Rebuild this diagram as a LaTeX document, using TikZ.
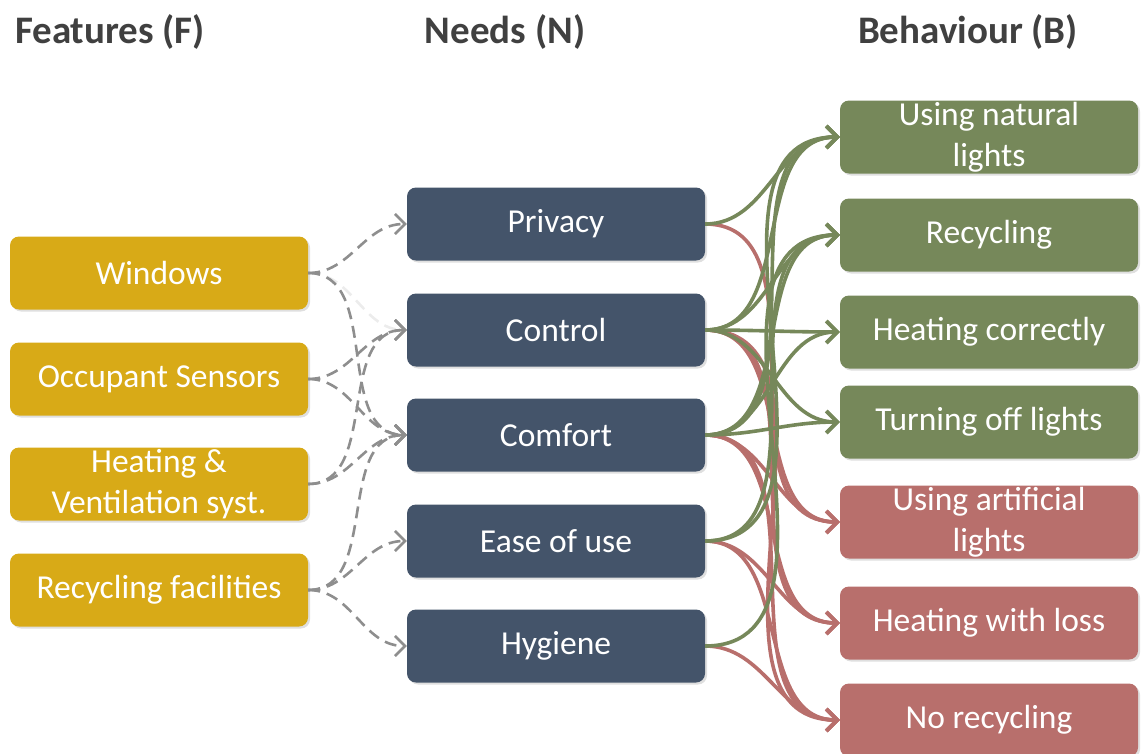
\documentclass[tikz,border=0pt]{standalone}
\usepackage{fontspec}
\setmainfont{Carlito}
\usetikzlibrary{arrows.meta,shadows}
\definecolor{featc}{HTML}{D8AA17}
\definecolor{needc}{HTML}{44546A}
\definecolor{goodc}{HTML}{76885A}
\definecolor{badc}{HTML}{B86F6C}
\definecolor{titlec}{HTML}{404040}
\definecolor{linkgray}{HTML}{8E8E8E}
\begin{document}
\begin{tikzpicture}[x=1pt,y=-1pt,
  box/.style={rounded corners=9pt, minimum width=298pt, minimum height=73pt, text=white,
    font=\fontsize{33.5}{41}\selectfont, align=center, inner sep=0pt,
    drop shadow={opacity=0.25,shadow xshift=2pt,shadow yshift=-2pt}},
  feat/.style={box, fill=featc},
  need/.style={box, fill=needc},
  good/.style={box, fill=goodc},
  bad/.style={box, fill=badc},
  title/.style={font=\bfseries\fontsize{39}{44}\selectfont, text=titlec},
  dlink/.style={draw=linkgray, line width=2.6pt, dash pattern=on 12pt off 7pt,
    -{Straight Barb[length=10pt,width=20pt,line width=2.6pt]}},
  faint/.style={dlink, draw=gray!15},
  glink/.style={draw=goodc, line width=3.6pt, -{Straight Barb[length=11pt,width=22pt,line width=3.6pt]}},
  rlink/.style={draw=badc, line width=3.6pt, -{Straight Barb[length=11pt,width=22pt,line width=3.6pt]}}
]
\useasboundingbox (0,0) rectangle (1143,753);

\node[title] (tf) at (110,32) {Features (F)};
\node[title] (tn) at (505,32) {Needs (N)};
\node[title] (tb) at (968,32) {Behaviour (B)};

% Features
\node[feat] (w) at (159,273) {Windows};
\node[feat] (o) at (159,379) {Occupant Sensors};
\node[feat] (h) at (159,484) {Heating \&\\Ventilation syst.};
\node[feat] (r) at (159,590) {Recycling facilities};

% Needs
\node[need] (p) at (556,224) {Privacy};
\node[need] (ct) at (556,330) {Control};
\node[need] (cf) at (556,435) {Comfort};
\node[need] (e) at (556,541) {Ease of use};
\node[need] (hy) at (556,646) {Hygiene};

% Behaviour
\node[good] (nl) at (989,137) {Using natural\\lights};
\node[good] (rc) at (989,235) {Recycling};
\node[good] (hc) at (989,332) {Heating correctly};
\node[good] (tl) at (989,422) {Turning off lights};
\node[bad] (al) at (989,522) {Using artificial\\lights};
\node[bad] (hl) at (989,623) {Heating with loss};
\node[bad] (nr) at (989,720) {No recycling};

% Features -> Needs
\draw[faint] (w.east) to[out=0,in=180] (ct.west);
\draw[dlink] (w.east) to[out=0,in=180] (p.west);
\draw[dlink] (w.east) to[out=0,in=180] (cf.west);
\draw[dlink] (o.east) to[out=0,in=180] (ct.west);
\draw[dlink] (o.east) to[out=0,in=180] (cf.west);
\draw[dlink] (h.east) to[out=0,in=180] (ct.west);
\draw[dlink] (h.east) to[out=0,in=180] (cf.west);
\draw[dlink] (r.east) to[out=0,in=180] (cf.west);
\draw[dlink] (r.east) to[out=0,in=180] (e.west);
\draw[dlink] (r.east) to[out=0,in=180] (hy.west);

% Needs -> Behaviour (red)
\draw[rlink] (p.east) to[out=0,in=180] (al.west);
\draw[rlink] (ct.east) to[out=0,in=180] (al.west);
\draw[rlink] (ct.east) to[out=0,in=180] (hl.west);
\draw[rlink] (ct.east) to[out=0,in=180] (nr.west);
\draw[rlink] (cf.east) to[out=0,in=180] (al.west);
\draw[rlink] (cf.east) to[out=0,in=180] (hl.west);
\draw[rlink] (cf.east) to[out=0,in=180] (nr.west);
\draw[rlink] (e.east) to[out=0,in=180] (hl.west);
\draw[rlink] (e.east) to[out=0,in=180] (nr.west);
\draw[rlink] (hy.east) to[out=0,in=180] (nr.west);

% Needs -> Behaviour (green)
\draw[glink] (p.east) to[out=0,in=180] (nl.west);
\draw[glink] (ct.east) to[out=0,in=180] (nl.west);
\draw[glink] (ct.east) to[out=0,in=180] (rc.west);
\draw[glink] (ct.east) to[out=0,in=180] (hc.west);
\draw[glink] (ct.east) to[out=0,in=180] (tl.west);
\draw[glink] (cf.east) to[out=0,in=180] (nl.west);
\draw[glink] (cf.east) to[out=0,in=180] (rc.west);
\draw[glink] (cf.east) to[out=0,in=180] (hc.west);
\draw[glink] (cf.east) to[out=0,in=180] (tl.west);
\draw[glink] (e.east) to[out=0,in=180] (nl.west);
\draw[glink] (e.east) to[out=0,in=180] (rc.west);
\draw[glink] (hy.east) to[out=0,in=180] (rc.west);
\end{tikzpicture}
\end{document}
